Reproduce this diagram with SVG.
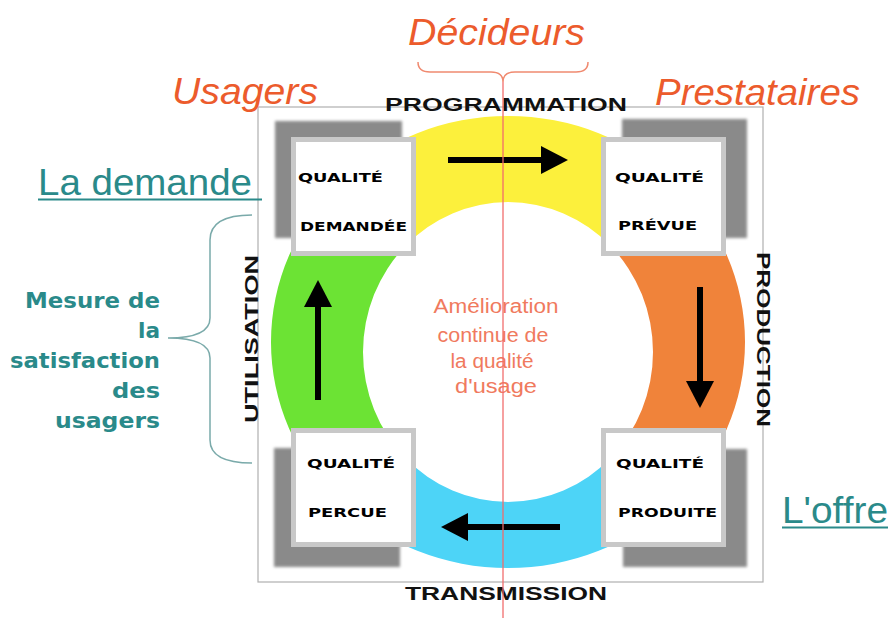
<svg xmlns="http://www.w3.org/2000/svg" width="891" height="618" viewBox="0 0 891 618">
<defs>
<filter id="blur" x="-10%" y="-10%" width="120%" height="120%"><feGaussianBlur stdDeviation="1.5"/></filter>
<marker id="head" viewBox="0 -14 27 28" refX="2" refY="0" markerUnits="userSpaceOnUse" markerWidth="27" markerHeight="28" orient="auto"><path d="M0,-14 L27,0 L0,14 Z" fill="#000"/></marker>
<style>
.shadow{fill:#8a8a8a;filter:url(#blur)}
.box{fill:#fff;stroke:#c8c8c8;stroke-width:5}
.bt{font-family:"DejaVu Sans",sans-serif;font-weight:bold;font-size:12px;fill:#000}
.stage{font-family:"Liberation Sans",Arial,sans-serif;font-weight:bold;font-size:19px;fill:#111}
.actor{font-family:"Liberation Sans",Arial,sans-serif;font-style:italic;font-size:36px;fill:#EC5B2C}
.link{font-family:"Liberation Sans",Arial,sans-serif;font-size:37px;fill:#2A8A8A}
.mes{font-family:"DejaVu Sans",sans-serif;font-weight:bold;font-size:22px;fill:#2A8A8A;text-anchor:end}
.ctr{font-family:"Liberation Sans",Arial,sans-serif;font-size:20px;fill:#F07A5E;text-anchor:middle}
.arrow{stroke:#000;stroke-width:6;fill:none;marker-end:url(#head)}
</style>
</defs>
<rect x="258" y="107" width="505" height="475" fill="none" stroke="#b0b0b0" stroke-width="1.2"/>
<g id="ring">
<path d="M340.4,182.2 A237,226 0 0 1 675.6,182.2 L610.5,245.9 A145,150 0 0 0 405.5,245.9 Z" fill="#FCF03C"/>
<path d="M675.6,182.2 A237,226 0 0 1 675.6,501.8 L610.5,458.1 A145,150 0 0 0 610.5,245.9 Z" fill="#F0833A"/>
<path d="M675.6,501.8 A237,226 0 0 1 340.4,501.8 L405.5,458.1 A145,150 0 0 0 610.5,458.1 Z" fill="#4DD4F7"/>
<path d="M340.4,501.8 A237,226 0 0 1 340.4,182.2 L405.5,245.9 A145,150 0 0 0 405.5,458.1 Z" fill="#6CE334"/>
</g>
<g id="q-demandee">
<rect class="shadow" x="275" y="121" width="127" height="117"/>
<rect class="box" x="293.5" y="139.5" width="120" height="114"/>
<text class="bt" x="298" y="182" textLength="85" lengthAdjust="spacingAndGlyphs">QUALITÉ</text>
<text class="bt" x="300" y="231" textLength="107" lengthAdjust="spacingAndGlyphs">DEMANDÉE</text>
</g>
<g id="q-prevue">
<rect class="shadow" x="622" y="119" width="125" height="119"/>
<rect class="box" x="603.5" y="139.5" width="120" height="114"/>
<text class="bt" x="615" y="182" textLength="89" lengthAdjust="spacingAndGlyphs">QUALITÉ</text>
<text class="bt" x="618" y="230" textLength="79" lengthAdjust="spacingAndGlyphs">PRÉVUE</text>
</g>
<g id="q-percue">
<rect class="shadow" x="274" y="448" width="126" height="119"/>
<rect class="box" x="293.5" y="430.5" width="120" height="114"/>
<text class="bt" x="307" y="468" textLength="88" lengthAdjust="spacingAndGlyphs">QUALITÉ</text>
<text class="bt" x="308" y="517" textLength="79" lengthAdjust="spacingAndGlyphs">PERCUE</text>
</g>
<g id="q-produite">
<rect class="shadow" x="623" y="449" width="124" height="118"/>
<rect class="box" x="603.5" y="430.5" width="120" height="114"/>
<text class="bt" x="616" y="468" textLength="88" lengthAdjust="spacingAndGlyphs">QUALITÉ</text>
<text class="bt" x="618" y="517" textLength="99" lengthAdjust="spacingAndGlyphs">PRODUITE</text>
</g>
<g id="connectors">
<line class="arrow" x1="448" y1="160" x2="543" y2="160"/>
<line class="arrow" x1="700" y1="287" x2="700" y2="383"/>
<line class="arrow" x1="560" y1="527" x2="466" y2="527"/>
<line class="arrow" x1="318" y1="400" x2="318" y2="305"/>
<path d="M418,62 Q418,72 430,72 L491,72 Q503,72 503,82 Q503,72 515,72 L576,72 Q588,72 588,62" fill="none" stroke="#F08A70" stroke-width="1.5"/>
<path d="M252,215 Q210,215 210,240 L210,318 Q210,338 168,338 Q210,338 210,358 L210,440 Q210,463 252,463" fill="none" stroke="#7AAAAA" stroke-width="1.5"/>
</g>
<g id="labels">
<text class="stage" x="385" y="111" textLength="242" lengthAdjust="spacingAndGlyphs">PROGRAMMATION</text>
<text class="stage" x="405" y="600" textLength="202" lengthAdjust="spacingAndGlyphs">TRANSMISSION</text>
<text class="stage" transform="translate(757,252) rotate(90)" textLength="175" lengthAdjust="spacingAndGlyphs">PRODUCTION</text>
<text class="stage" transform="translate(258,423) rotate(-90)" textLength="168" lengthAdjust="spacingAndGlyphs">UTILISATION</text>
<text class="actor" x="408" y="45" textLength="177" lengthAdjust="spacingAndGlyphs">Décideurs</text>
<text class="actor" x="172" y="104" textLength="146" lengthAdjust="spacingAndGlyphs">Usagers</text>
<text class="actor" x="655" y="105" textLength="205" lengthAdjust="spacingAndGlyphs">Prestataires</text>
<text class="link" x="38" y="195" textLength="214" lengthAdjust="spacingAndGlyphs">La demande</text>
<line x1="38" y1="199.5" x2="262" y2="199.5" stroke="#2A8A8A" stroke-width="2"/>
<text class="link" x="782" y="523" textLength="106" lengthAdjust="spacingAndGlyphs">L'offre</text>
<line x1="782" y1="527.5" x2="888" y2="527.5" stroke="#2A8A8A" stroke-width="2"/>
<text class="mes" x="160" y="308" textLength="135" lengthAdjust="spacingAndGlyphs">Mesure de</text>
<text class="mes" x="160" y="338" textLength="22" lengthAdjust="spacingAndGlyphs">la</text>
<text class="mes" x="160" y="368" textLength="150" lengthAdjust="spacingAndGlyphs">satisfaction</text>
<text class="mes" x="160" y="398" textLength="48" lengthAdjust="spacingAndGlyphs">des</text>
<text class="mes" x="160" y="428" textLength="105" lengthAdjust="spacingAndGlyphs">usagers</text>
<text class="ctr" x="496" y="313" textLength="125" lengthAdjust="spacingAndGlyphs">Amélioration</text>
<text class="ctr" x="493" y="342" textLength="111" lengthAdjust="spacingAndGlyphs">continue de</text>
<text class="ctr" x="492" y="368" textLength="83" lengthAdjust="spacingAndGlyphs">la qualité</text>
<text class="ctr" x="496" y="393" textLength="82" lengthAdjust="spacingAndGlyphs">d'usage</text>
</g>
<line id="axis" x1="503" y1="82" x2="503" y2="618" stroke="#F06A6A" stroke-width="1.5" stroke-opacity="0.85"/>
</svg>
